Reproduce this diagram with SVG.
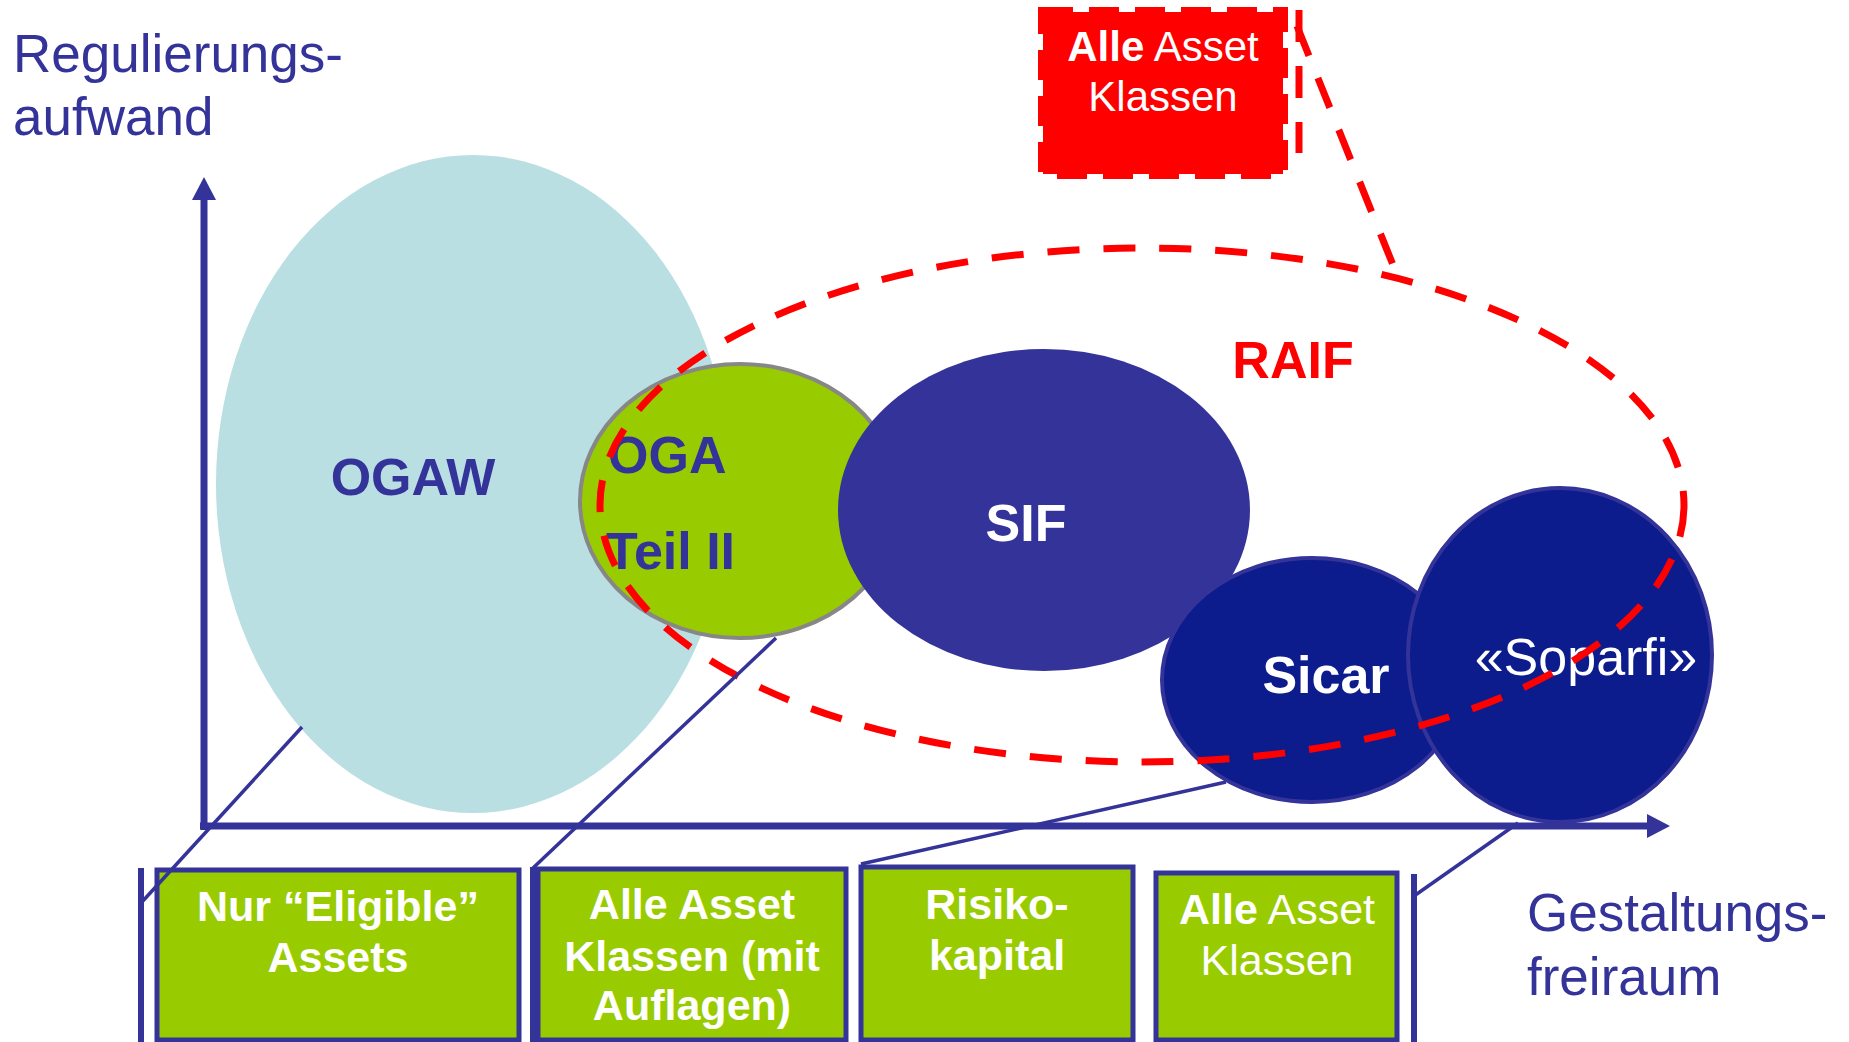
<svg xmlns="http://www.w3.org/2000/svg" width="1849" height="1042" viewBox="0 0 1849 1042">
  <defs>
    <marker id="arrow" markerUnits="userSpaceOnUse" markerWidth="24" markerHeight="24" refX="0" refY="12" orient="auto">
      <path d="M0,0 L23,12 L0,24 z" fill="#333399"/>
    </marker>
    <style>
      text { font-family: "Liberation Sans", Arial, sans-serif; }
      .axis { stroke: #333399; stroke-width: 7; fill: none; }
      .conn { stroke: #333399; stroke-width: 3.5; fill: none; }
      .bar { stroke: #333399; stroke-width: 6; fill: none; }
      .box { fill: #99CC00; stroke: #333399; stroke-width: 5; }
      .boxtxt { fill: #ffffff; font-size: 43px; font-weight: bold; text-anchor: middle; }
      .reg { font-weight: normal; }
      .axlabel { fill: #333399; font-size: 53px; }
      .big { font-size: 52px; font-weight: bold; }
      .dark { fill: #0C1C8C; stroke: #333399; stroke-width: 4; }
      .reddash { fill: none; stroke: #FF0000; stroke-width: 7; stroke-dasharray: 32 24; }
    </style>
  </defs>

  <!-- axis labels -->
  <g id="label-y">
    <text class="axlabel" x="13" y="72">Regulierungs-</text>
    <text class="axlabel" x="13" y="135">aufwand</text>
  </g>
  <g id="label-x">
    <text class="axlabel" x="1527" y="931">Gestaltungs-</text>
    <text class="axlabel" x="1527" y="995">freiraum</text>
  </g>

  <!-- ellipse nodes -->
  <g id="ogaw">
    <ellipse cx="473" cy="484" rx="257" ry="329" fill="#B9DFE3"/>
    <text class="big" x="413" y="495" fill="#333399" text-anchor="middle">OGAW</text>
  </g>
  <g id="oga-teil-ii">
    <ellipse cx="740" cy="501" rx="160" ry="137" fill="#99CC00" stroke="#878787" stroke-width="4"/>
    <text class="big" x="608" y="473" fill="#333399">OGA</text>
    <text class="big" x="606" y="569" fill="#333399">Teil II</text>
  </g>
  <g id="sif">
    <ellipse cx="1044" cy="510" rx="206" ry="161" fill="#333399"/>
    <text class="big" x="1026" y="541" fill="#ffffff" text-anchor="middle">SIF</text>
  </g>
  <g id="sicar">
    <ellipse class="dark" cx="1312" cy="680" rx="150" ry="122"/>
    <text class="big" x="1326" y="693" fill="#ffffff" text-anchor="middle">Sicar</text>
  </g>
  <g id="soparfi">
    <ellipse class="dark" cx="1560" cy="655" rx="152" ry="167"/>
    <text x="1586" y="675" fill="#ffffff" font-size="52" text-anchor="middle">«Soparfi»</text>
  </g>

  <!-- axes -->
  <g id="axes">
    <line class="axis" x1="204" y1="830" x2="204" y2="200" marker-end="url(#arrow)"/>
    <line class="axis" x1="200" y1="826" x2="1647" y2="826" marker-end="url(#arrow)"/>
  </g>

  <!-- bottom boxes -->
  <g id="box-eligible">
    <rect class="box" x="157" y="870" width="362" height="170"/>
    <text class="boxtxt" x="338" y="921">Nur “Eligible”</text>
    <text class="boxtxt" x="338" y="972">Assets</text>
  </g>
  <g id="box-alle-mit-auflagen">
    <rect class="box" x="538" y="869" width="308" height="171"/>
    <text class="boxtxt" x="692" y="919">Alle Asset</text>
    <text class="boxtxt" x="692" y="971">Klassen (mit</text>
    <text class="boxtxt" x="692" y="1020">Auflagen)</text>
  </g>
  <g id="box-risikokapital">
    <rect class="box" x="861" y="867" width="272" height="173"/>
    <text class="boxtxt" x="997" y="919">Risiko-</text>
    <text class="boxtxt" x="997" y="970">kapital</text>
  </g>
  <g id="box-alle-asset">
    <rect class="box" x="1156" y="873" width="241" height="167"/>
    <text class="boxtxt" x="1277" y="924">Alle<tspan class="reg"> Asset</tspan></text>
    <text class="boxtxt reg" x="1277" y="975">Klassen</text>
  </g>

  <!-- red callout box -->
  <g id="raif-assets">
    <rect x="1043" y="12" width="240" height="162" fill="#FF0000" stroke="#FF0000" stroke-width="10" stroke-dasharray="30 16"/>
    <text x="1163" y="61" fill="#ffffff" font-size="42" text-anchor="middle"><tspan font-weight="bold">Alle</tspan> Asset</text>
    <text x="1163" y="111" fill="#ffffff" font-size="42" text-anchor="middle">Klassen</text>
  </g>

  <!-- RAIF -->
  <g id="raif">
    <ellipse class="reddash" cx="1142" cy="505" rx="542" ry="257"/>
    <text class="big" x="1293" y="378" fill="#FF0000" text-anchor="middle">RAIF</text>
  </g>

  <!-- connectors -->
  <g id="connectors">
    <line class="conn" x1="302" y1="727" x2="141" y2="903"/>
    <line class="conn" x1="776" y1="638" x2="533" y2="868"/>
    <line class="conn" x1="1226" y1="782" x2="861" y2="864"/>
    <line class="conn" x1="1518" y1="823" x2="1414" y2="896"/>
    <line class="bar" x1="141" y1="868" x2="141" y2="1042"/>
    <line class="bar" x1="533" y1="867" x2="533" y2="1042"/>
    <line class="bar" x1="1414" y1="874" x2="1414" y2="1042"/>
    <line class="reddash" x1="1299" y1="10" x2="1299" y2="153" stroke-width="8" stroke-dasharray="30 20"/>
    <line class="reddash" x1="1297" y1="26" x2="1393" y2="265" stroke-dasharray="30 22"/>
  </g>
</svg>
